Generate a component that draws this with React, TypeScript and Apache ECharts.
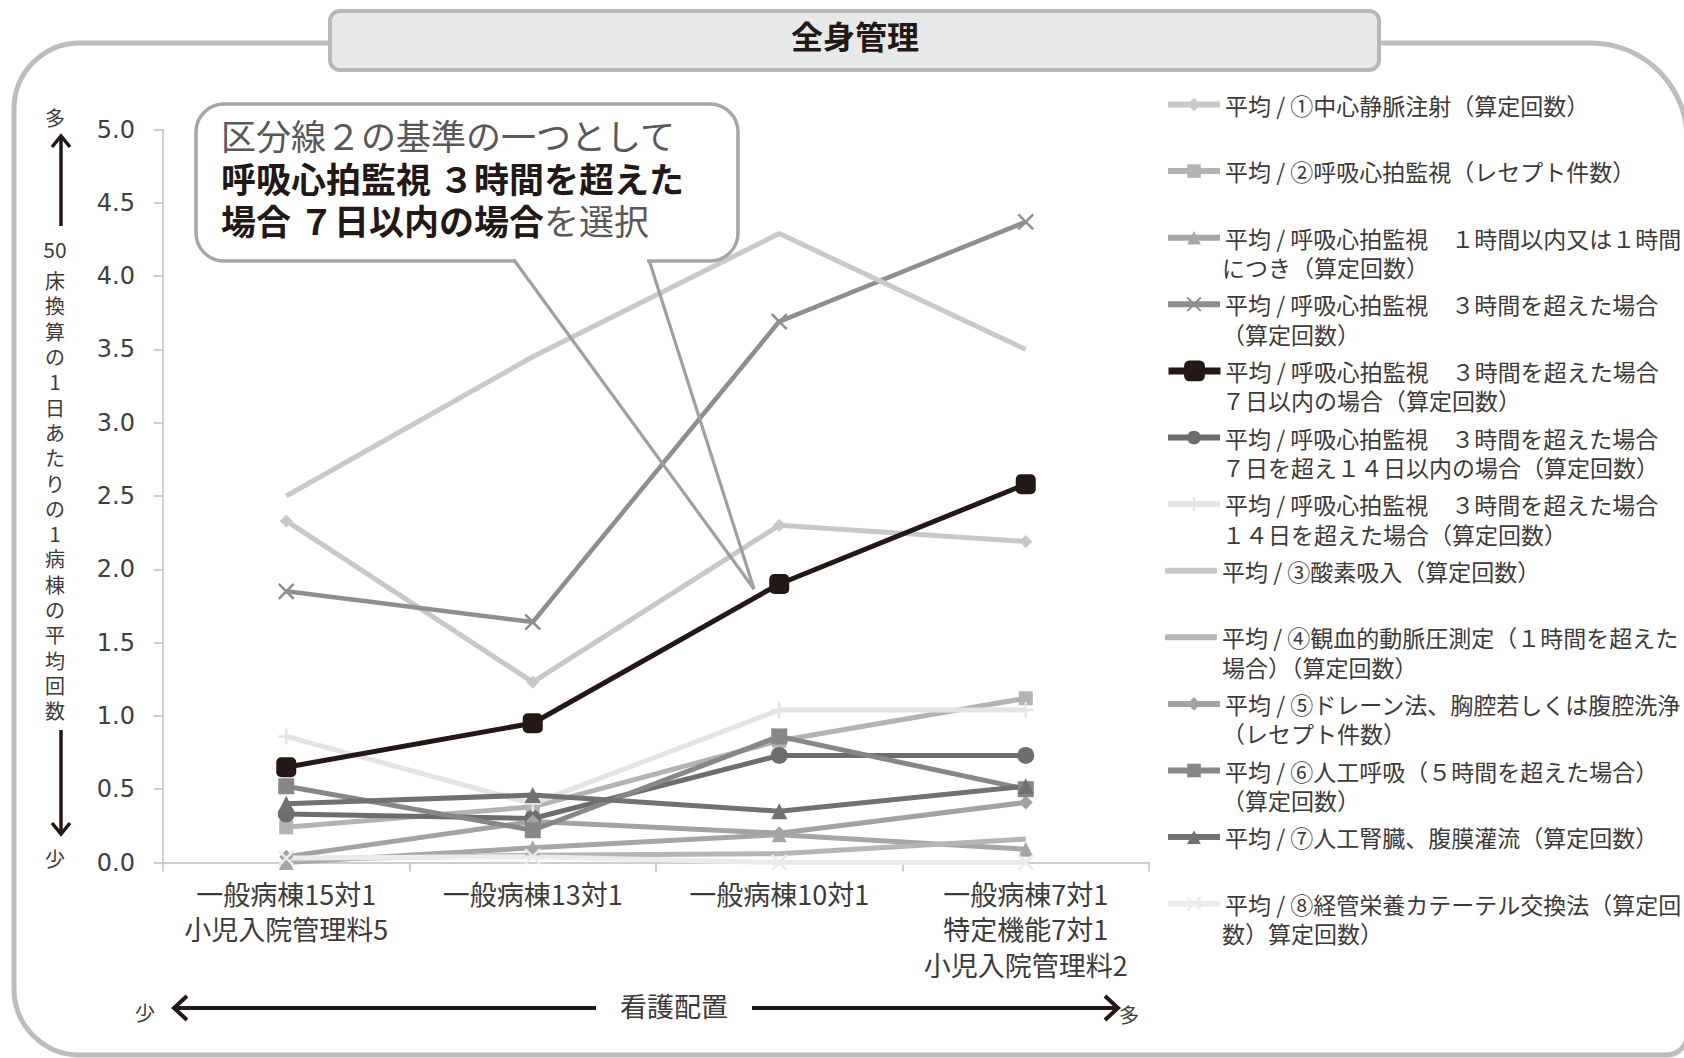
import React, { useEffect, useRef } from "react";
import * as echarts from "echarts";

// ---------- data ----------
const categories = [
  "一般病棟15対1\n小児入院管理料5",
  "一般病棟13対1",
  "一般病棟10対1",
  "一般病棟7対1\n特定機能7対1\n小児入院管理料2",
];

const yMin = 0;
const yMax = 5;
const yInterval = 0.5;

const legendLines: string[][] = [
  ["平均 / ①中心静脈注射（算定回数）"],
  ["平均 / ②呼吸心拍監視（レセプト件数）"],
  ["平均 / 呼吸心拍監視　１時間以内又は１時間", "につき（算定回数）"],
  ["平均 / 呼吸心拍監視　３時間を超えた場合", "（算定回数）"],
  ["平均 / 呼吸心拍監視　３時間を超えた場合", "７日以内の場合（算定回数）"],
  ["平均 / 呼吸心拍監視　３時間を超えた場合", "７日を超え１４日以内の場合（算定回数）"],
  ["平均 / 呼吸心拍監視　３時間を超えた場合", "１４日を超えた場合（算定回数）"],
  ["平均 / ③酸素吸入（算定回数）"],
  ["平均 / ④観血的動脈圧測定（１時間を超えた", "場合）（算定回数）"],
  ["平均 / ⑤ドレーン法、胸腔若しくは腹腔洗浄", "（レセプト件数）"],
  ["平均 / ⑥人工呼吸（５時間を超えた場合）", "（算定回数）"],
  ["平均 / ⑦人工腎臓、腹膜灌流（算定回数）"],
  ["平均 / ⑧経管栄養カテーテル交換法（算定回", "数）算定回数）"],
];

const centralVenous = [2.33, 1.23, 2.3, 2.19];
const monitorReceipt = [0.24, 0.38, 0.83, 1.12];
const monitorWithin1h = [0.0, 0.1, 0.19, 0.09];
const monitorOver3h = [1.85, 1.64, 3.69, 4.37];
const monitorOver3hWithin7d = [0.65, 0.95, 1.9, 2.58];
const monitorOver3h7to14d = [0.33, 0.3, 0.73, 0.73];
const monitorOver3hOver14d = [0.86, 0.4, 1.04, 1.04];
const oxygen = [2.5, 3.45, 4.29, 3.5];
const arterialPressure = [0.02, 0.05, 0.06, 0.16];
const drainage = [0.04, 0.28, 0.2, 0.41];
const ventilation = [0.52, 0.22, 0.86, 0.5];
const dialysis = [0.4, 0.46, 0.35, 0.52];
const tubeFeeding = [0.03, 0.04, 0.0, 0.0];

const seriesValues = [
  centralVenous,
  monitorReceipt,
  monitorWithin1h,
  monitorOver3h,
  monitorOver3hWithin7d,
  monitorOver3h7to14d,
  monitorOver3hOver14d,
  oxygen,
  arterialPressure,
  drainage,
  ventilation,
  dialysis,
  tubeFeeding,
];

const calloutLine1 = "区分線２の基準の一つとして";
const calloutLine2 = "呼吸心拍監視 ３時間を超えた";
const calloutLine3Bold = "場合 ７日以内の場合";
const calloutLine3Normal = "を選択";
const yAxisUnit = "50";
const yAxisNameChars = "床換算の1日あたりの1病棟の平均回数";
const xAxisName = "看護配置";
const titleText = "全身管理";

// ---------- styles ----------
const X_PATH = "path://M0,0L10,10M10,0L0,10";
const PLUS_PATH = "path://M5,0L5,10M0,5L10,5";

type SStyle = { color: string; symbol: string; size: number; width: number; stroke?: boolean; z?: number };
const seriesStyles: SStyle[] = [
  { color: "#c8c8c8", symbol: "diamond", size: 13, width: 5 },
  { color: "#b3b3b3", symbol: "rect", size: 14, width: 5 },
  { color: "#a6a6a6", symbol: "triangle", size: 15, width: 5 },
  { color: "#8e8e8e", symbol: X_PATH, size: 15, width: 4.5, stroke: true },
  { color: "#231815", symbol: "roundRect", size: 20, width: 5, z: 4 },
  { color: "#6d6d6d", symbol: "circle", size: 17, width: 5 },
  { color: "#e4e4e4", symbol: PLUS_PATH, size: 16, width: 5, stroke: true },
  { color: "#c9c9c9", symbol: "none", size: 0, width: 5 },
  { color: "#b5b5b5", symbol: "none", size: 0, width: 5 },
  { color: "#a3a3a3", symbol: "diamond", size: 14, width: 5 },
  { color: "#878787", symbol: "rect", size: 16, width: 5 },
  { color: "#717171", symbol: "triangle", size: 16, width: 5 },
  { color: "#ebebeb", symbol: X_PATH, size: 15, width: 5, stroke: true },
];

const FONT = '"Noto Sans CJK JP", "Noto Sans", sans-serif';
const TEXT = "#3e3a39";

const W = 1684;
const H = 1058;
const GRID_LEFT = 163;
const GRID_RIGHT_X = 1149;
const GRID_TOP = 129.5;
const GRID_BOTTOM_Y = 862.5;

const LEGEND_LEFT = 1165;
const LEGEND_ICON_W = 52;
const LEGEND_FIRST_Y = 104;
const LEGEND_STEP = 66.6;
const LEGEND_LH = 30;
const LEGEND_FS = 23;

function buildOption() {
  const names = legendLines.map((l) => l.join(""));

  const series = seriesValues.map((vals, i) => {
    const st = seriesStyles[i];
    return {
      type: "line",
      name: names[i],
      data: vals,
      symbol: st.symbol,
      symbolSize: st.size,
      z: st.z ?? 2,
      lineStyle: { color: st.color, width: st.width },
      itemStyle: st.stroke
        ? { color: st.color, borderColor: st.color, borderWidth: 2.5 }
        : { color: st.color },
      emphasis: { disabled: true },
    };
  });

  const legends = legendLines.map((lines, i) => {
    const st = seriesStyles[i];
    const Y = LEGEND_FIRST_Y + i * LEGEND_STEP;
    const noMarker = st.symbol === "none";
    return {
      data: [noMarker ? { name: names[i], icon: "roundRect" } : { name: names[i] }],
      left: LEGEND_LEFT,
      top: Y - 14.5,
      orient: "vertical",
      padding: 0,
      itemWidth: LEGEND_ICON_W,
      itemHeight: noMarker ? 6 : i === 4 ? 26 : 17,
      selectedMode: false,
      lineStyle: { width: i === 4 ? 7 : 6 },
      formatter: () => lines[0],
      textStyle: {
        fontFamily: FONT,
        fontSize: LEGEND_FS,
        color: TEXT,
        lineHeight: LEGEND_LH,
        backgroundColor: "rgba(0,0,0,0)",
      },
    };
  });

  const txt = (text: string, x: number, y: number, size: number, extra: any = {}) => ({
    type: "text",
    x,
    y,
    z: 20,
    silent: true,
    style: {
      text,
      fontSize: size,
      fontFamily: FONT,
      fill: TEXT,
      align: "center",
      textAlign: "center",
      verticalAlign: "middle",
      textVerticalAlign: "middle",
      ...extra,
    },
  });

  const legendSecondLines = legendLines
    .map((lines, i) =>
      lines.length > 1
        ? txt(lines[1], LEGEND_LEFT + LEGEND_ICON_W + 5, LEGEND_FIRST_Y + i * LEGEND_STEP + LEGEND_LH, LEGEND_FS, {
            align: "left",
            textAlign: "left",
          })
        : null
    )
    .filter(Boolean);

  const lineEl = (pts: number[][], w: number, color = "#231815", z = 20) => ({
    type: "polyline",
    z,
    silent: true,
    shape: { points: pts },
    style: { stroke: color, lineWidth: w, fill: "none", lineJoin: "miter" },
  });

  const graphic: any[] = [
    // outer frame
    {
      type: "rect",
      z: 0,
      silent: true,
      shape: { x: 14, y: 43, width: 1673, height: 1012, r: [66, 96, 20, 66] },
      style: { fill: "none", stroke: "#bdbdbd", lineWidth: 5 },
    },
    // title box
    {
      type: "rect",
      z: 5,
      silent: true,
      shape: { x: 330, y: 11, width: 1049, height: 59, r: 10 },
      style: { fill: "#e7e8e8", stroke: "#b7b7b7", lineWidth: 4 },
    },
    txt(titleText, 855, 35, 32, { fontWeight: "bold", fill: "#231815" }),
    // callout
    {
      type: "rect",
      z: 10,
      silent: true,
      shape: { x: 196, y: 104, width: 542, height: 157, r: 28 },
      style: { fill: "#ffffff", stroke: "#a6a6a6", lineWidth: 3.5 },
    },
    {
      type: "line",
      z: 11,
      silent: true,
      shape: { x1: 516, y1: 261, x2: 647, y2: 261 },
      style: { stroke: "#ffffff", lineWidth: 6 },
    },
    lineEl([[514, 260], [754, 589], [649, 260]], 3.2, "#a0a0a0", 12),
    txt(calloutLine1, 221, 134.5, 35, { align: "left", textAlign: "left", fill: "#595757" }),
    txt(calloutLine2, 221, 177, 35, { align: "left", textAlign: "left", fill: "#231815", fontWeight: "bold" }),
    {
      type: "text",
      x: 221,
      y: 219.5,
      z: 20,
      silent: true,
      style: {
        text: "{b|" + calloutLine3Bold + "}{n|" + calloutLine3Normal + "}",
        align: "left",
        textAlign: "left",
        verticalAlign: "middle",
        textVerticalAlign: "middle",
        fontSize: 35,
        fontFamily: FONT,
        rich: {
          b: { fontSize: 35, fontFamily: FONT, fontWeight: "bold", fill: "#231815" },
          n: { fontSize: 35, fontFamily: FONT, fill: "#595757" },
        },
      },
    },
    // y axis name
    txt("多", 55, 117, 20),
    lineEl([[61, 226], [61, 137]], 3.5),
    lineEl([[52, 147], [61, 136], [70, 147]], 3.5),
    txt(yAxisUnit, 55, 249, 21),
    {
      type: "text",
      x: 55,
      y: 268,
      z: 20,
      silent: true,
      style: {
        text: yAxisNameChars.split("").join("\n"),
        fontSize: 20,
        lineHeight: 25.3,
        fontFamily: FONT,
        fill: TEXT,
        align: "center",
        textAlign: "center",
        verticalAlign: "top",
        textVerticalAlign: "top",
      },
    },
    lineEl([[61, 730], [61, 833]], 3.5),
    lineEl([[52, 823], [61, 834], [70, 823]], 3.5),
    txt("少", 55, 858, 20),
    // x axis name
    txt("少", 145, 1012, 20),
    lineEl([[596, 1008], [175, 1008]], 4),
    lineEl([[187, 996], [174, 1008], [187, 1020]], 4),
    txt(xAxisName, 674, 1005, 27),
    lineEl([[752, 1008], [1117, 1008]], 4),
    lineEl([[1105, 996], [1118, 1008], [1105, 1020]], 4),
    txt("多", 1129, 1014, 20),
    ...legendSecondLines,
  ];

  return {
    animation: false,
    backgroundColor: "#ffffff",
    grid: {
      left: GRID_LEFT,
      right: W - GRID_RIGHT_X,
      top: GRID_TOP,
      bottom: H - GRID_BOTTOM_Y,
      containLabel: false,
      outerBoundsMode: "none",
    },
    xAxis: {
      type: "category",
      data: categories,
      boundaryGap: true,
      axisLine: { show: true, lineStyle: { color: "#bfbfbf", width: 1.5 } },
      axisTick: { show: true, length: 9, alignWithLabel: false, lineStyle: { color: "#bfbfbf", width: 1.5 } },
      splitLine: { show: false },
      axisLabel: {
        margin: 13,
        color: TEXT,
        fontSize: 27,
        lineHeight: 35.5,
        fontFamily: FONT,
        interval: 0,
      },
    },
    yAxis: {
      type: "value",
      min: yMin,
      max: yMax,
      interval: yInterval,
      axisLine: { show: true, lineStyle: { color: "#bfbfbf", width: 1.5 } },
      axisTick: { show: true, length: 9, inside: false, lineStyle: { color: "#bfbfbf", width: 1.5 } },
      splitLine: { show: false },
      axisLabel: {
        margin: 28,
        color: "#404040",
        fontSize: 24,
        fontFamily: '"DejaVu Sans", sans-serif',
        formatter: (v: number) => v.toFixed(1),
      },
    },
    legend: legends,
    series,
    graphic,
  };
}

export default function App() {
  const ref = useRef<HTMLDivElement>(null);
  useEffect(() => {
    if (!ref.current) return;
    const chart = echarts.init(ref.current, undefined, { renderer: "svg" });
    chart.setOption(buildOption() as any);
    return () => chart.dispose();
  }, []);
  return (
    <div
      ref={ref}
      style={{ position: "fixed", left: 0, top: 0, width: W, height: H, background: "#fff" }}
    />
  );
}
